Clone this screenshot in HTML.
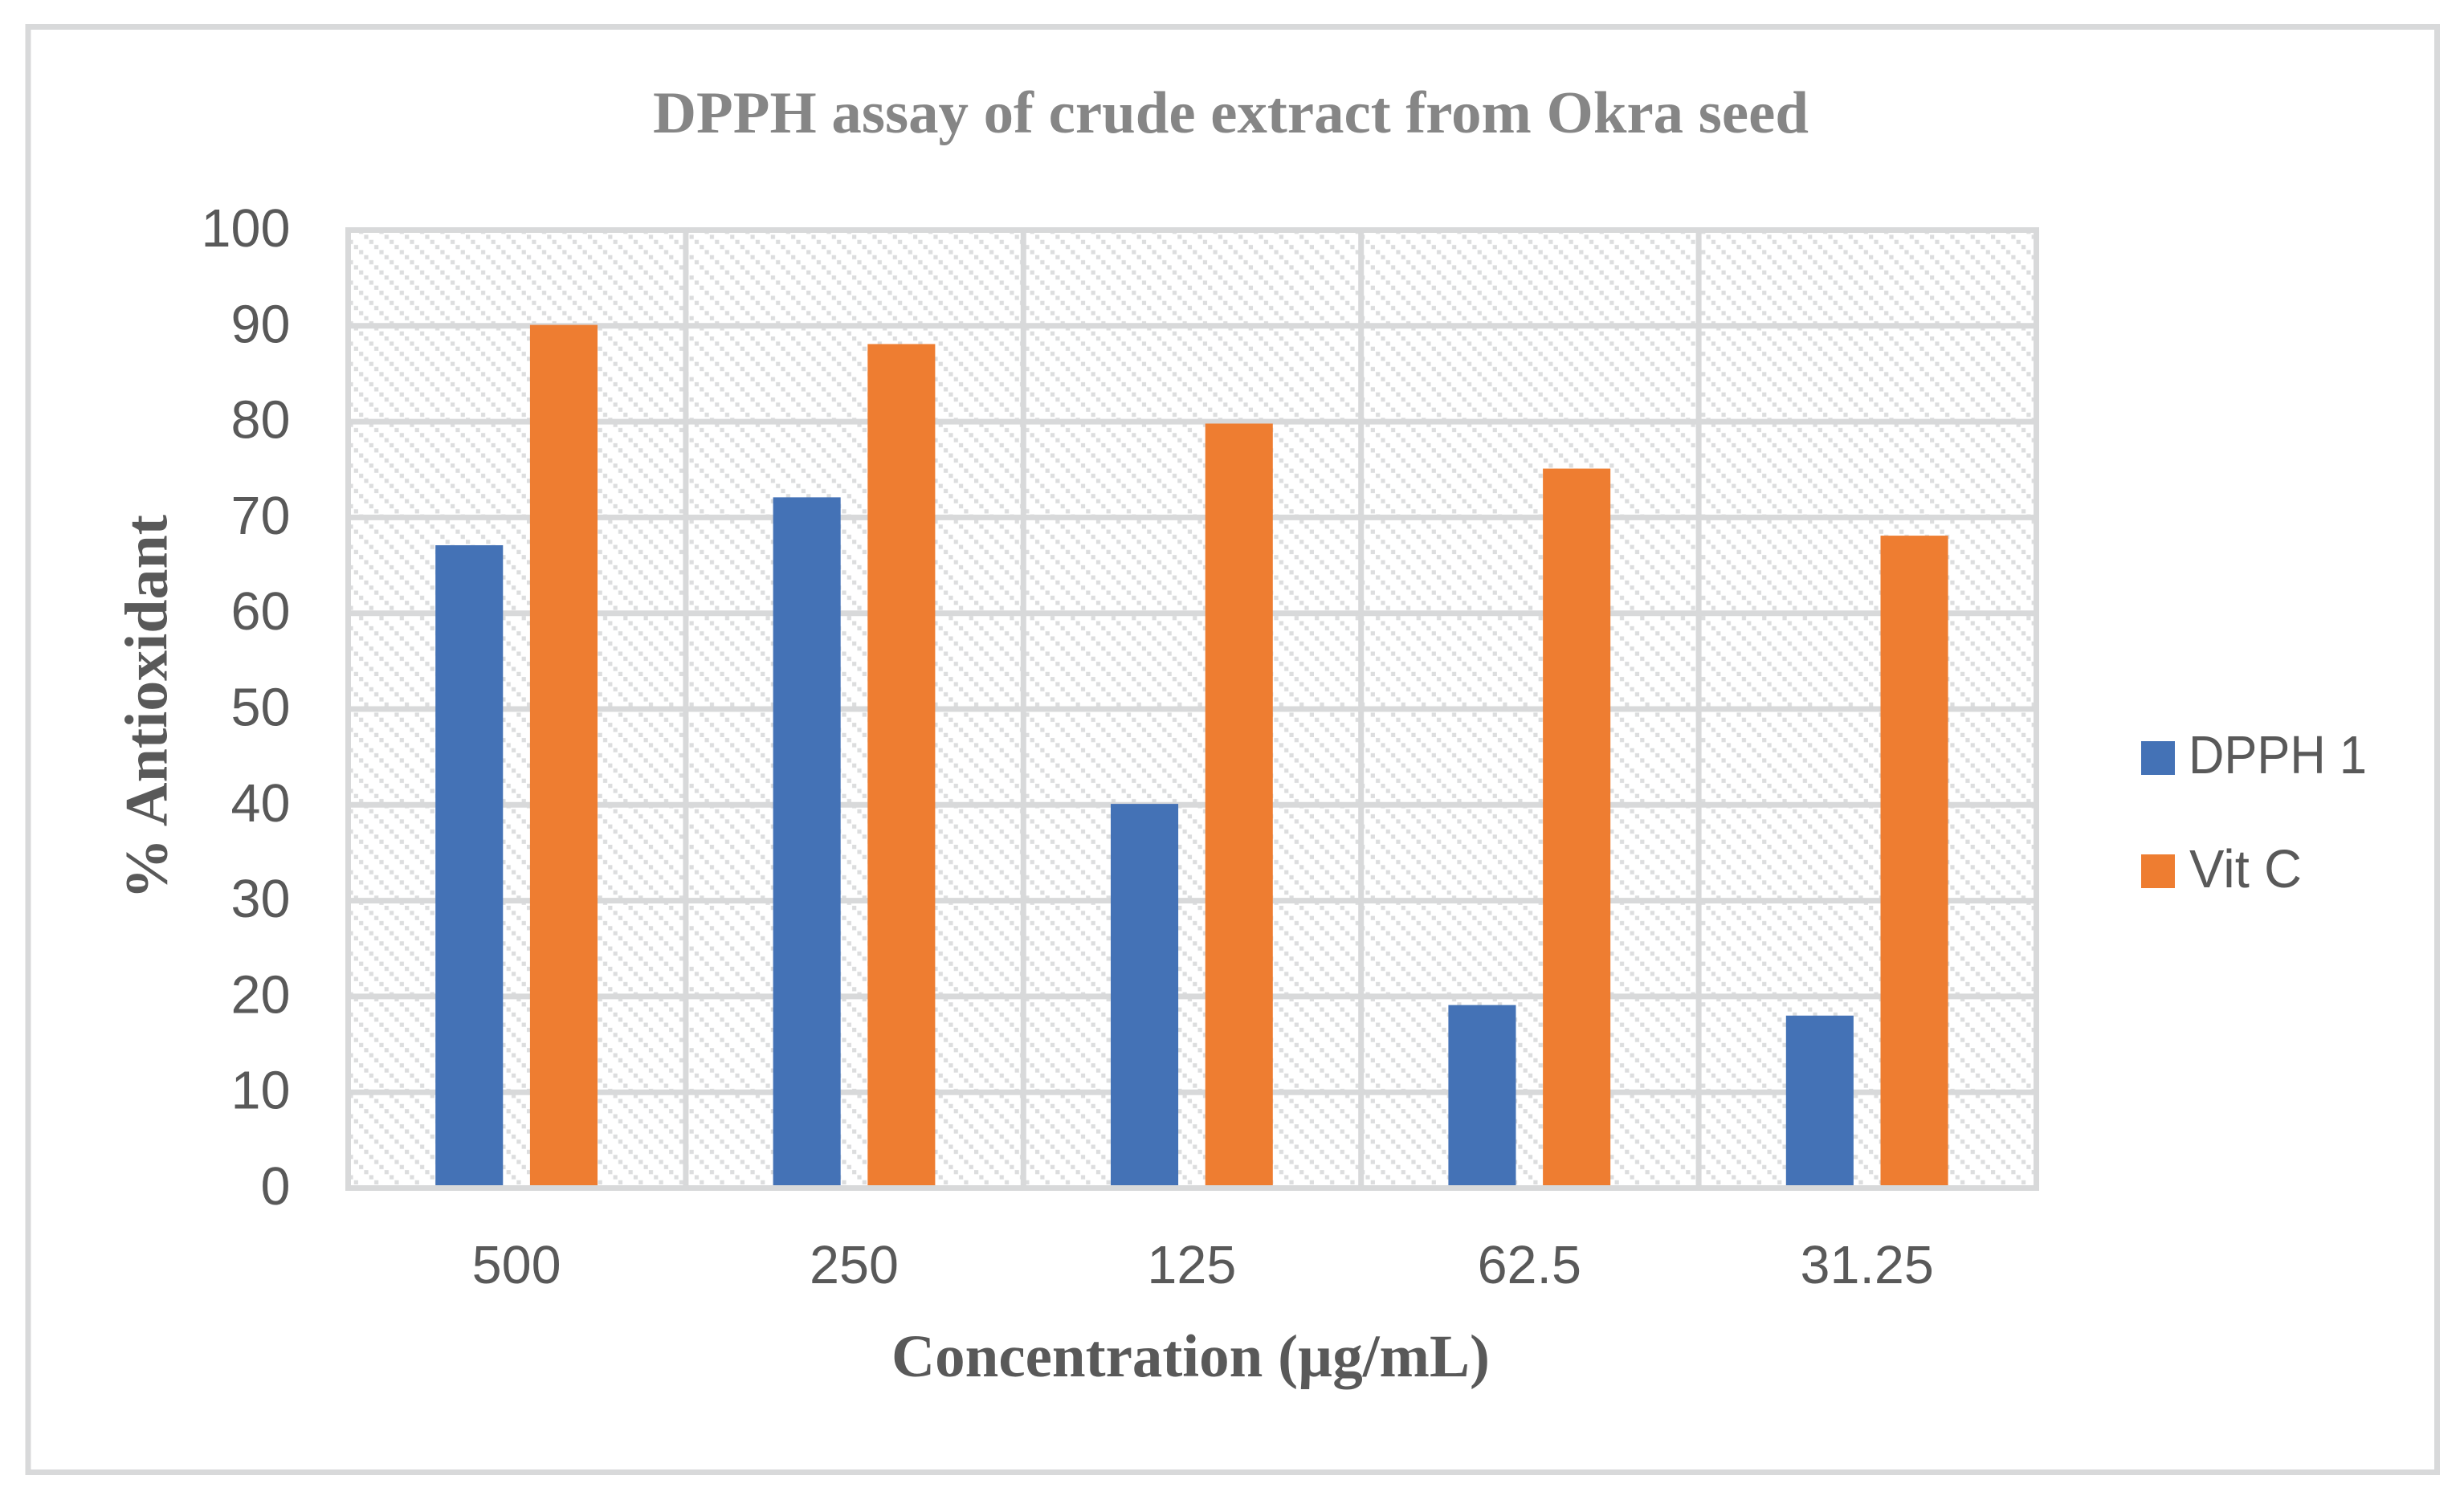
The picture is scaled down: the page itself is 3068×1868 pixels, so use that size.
<!DOCTYPE html>
<html>
<head>
<meta charset="utf-8">
<title>DPPH assay of crude extract from Okra seed</title>
<style>
html,body{margin:0;padding:0;background:#fff;width:3068px;height:1868px;overflow:hidden}
svg{display:block}
.tick{font-family:"Liberation Sans",sans-serif;font-size:66.5px;fill:#595959}
.serif{font-family:"Liberation Serif",serif;font-weight:bold}
</style>
</head>
<body>
<svg id="chart" xmlns="http://www.w3.org/2000/svg" width="3068" height="1868" viewBox="0 0 3068 1868">
  <defs>
    <pattern id="hatch" patternUnits="userSpaceOnUse" x="453.4" y="292.4" width="25.32" height="25.32">
      <rect x="0" y="0" width="5.2" height="5.2" fill="#dcddde"/>
      <rect x="6.33" y="6.33" width="5.2" height="5.2" fill="#dcddde"/>
      <rect x="12.66" y="12.66" width="5.2" height="5.2" fill="#dcddde"/>
      <rect x="18.99" y="18.99" width="5.2" height="5.2" fill="#dcddde"/>
    </pattern>
  </defs>
  <rect width="3068" height="1868" fill="#fff"/>
  <rect x="35" y="33.5" width="2999.5" height="1800" fill="#fff" stroke="#d8d9da" stroke-width="7"/>
  <rect x="433.5" y="286.5" width="2102" height="1193" fill="url(#hatch)"/>
  <g id="grid"></g>
  <g id="bars"></g>
  <g id="yticks"></g>
  <g id="xticks"></g>
  <text class="serif" x="813" y="165" font-size="74" fill="#868686" textLength="1439" lengthAdjust="spacingAndGlyphs">DPPH assay of crude extract from Okra seed</text>
  <text class="serif" x="207.7" y="1120" font-size="75" fill="#595959" textLength="479" lengthAdjust="spacingAndGlyphs" transform="rotate(-90 207.7 1120)">% Antioxidant</text>
  <text class="serif" x="1110" y="1714" font-size="75" fill="#595959" textLength="745" lengthAdjust="spacingAndGlyphs">Concentration (µg/mL)</text>
  <g>
    <rect x="2666" y="923" width="42" height="42" fill="#4472b6"/>
    <text class="tick" x="2725" y="963" textLength="222" lengthAdjust="spacingAndGlyphs">DPPH 1</text>
    <rect x="2666" y="1064" width="42" height="42" fill="#ee7d31"/>
    <text class="tick" x="2726" y="1105" textLength="140" lengthAdjust="spacingAndGlyphs">Vit C</text>
  </g>
</svg>
<script>
const categories = ["500", "250", "125", "62.5", "31.25"];
const dpphValues = [67.1, 72.1, 40.1, 19.1, 18];
const vitCValues = [90.1, 88.1, 79.8, 75.1, 68.1];
const yTickLabels = [0, 10, 20, 30, 40, 50, 60, 70, 80, 90, 100];

const NS = "http://www.w3.org/2000/svg";
const plotLeft = 433.5, plotRight = 2535.5, plotTop = 286.5, plotBottom = 1479.5;
const yMax = 100;
const bandWidth = (plotRight - plotLeft) / categories.length;
const barWidth = bandWidth / 5;
const barGap = barWidth * 0.4;

function yScale(v) { return plotBottom - (v / yMax) * (plotBottom - plotTop); }
function bandCenter(i) { return plotLeft + bandWidth * (i + 0.5) - 0.6; }
function make(tag, attrs) {
  const el = document.createElementNS(NS, tag);
  for (const k in attrs) el.setAttribute(k, attrs[k]);
  return el;
}

const grid = document.getElementById("grid");
const bars = document.getElementById("bars");
const yticks = document.getElementById("yticks");
const xticks = document.getElementById("xticks");

yTickLabels.forEach(function (t) {
  const line = make("line", {x1: plotLeft - 3.5, x2: plotRight + 3.5, y1: yScale(t), y2: yScale(t), stroke: "#d8d9da", "stroke-width": 7});
  
  
  grid.appendChild(line);
  const label = make("text", {x: 361.5, y: yScale(t) + 20.5, "text-anchor": "end", "class": "tick"});
  label.textContent = t;
  
  
  yticks.appendChild(label);
});

for (let i = 0; i <= categories.length; i++) {
  const x = plotLeft + bandWidth * i;
  const line = make("line", {x1: x, x2: x, y1: plotTop - 3.5, y2: plotBottom + 3.5, stroke: "#d8d9da", "stroke-width": 7});
  
  
  grid.appendChild(line);
}

categories.forEach(function (c, i) {
  const center = bandCenter(i);
  const blue = make("rect", {x: center - barGap / 2 - barWidth, y: yScale(dpphValues[i]), width: barWidth, height: plotBottom - 3.5 - yScale(dpphValues[i]), fill: "#4472b6"});
  
  
  bars.appendChild(blue);
  const orange = make("rect", {x: center + barGap / 2, y: yScale(vitCValues[i]), width: barWidth, height: plotBottom - 3.5 - yScale(vitCValues[i]), fill: "#ee7d31"});
  
  
  bars.appendChild(orange);
  const label = make("text", {x: center, y: 1598, "text-anchor": "middle", "class": "tick"});
  label.textContent = c;
  
  
  xticks.appendChild(label);
});
</script>
</body>
</html>
